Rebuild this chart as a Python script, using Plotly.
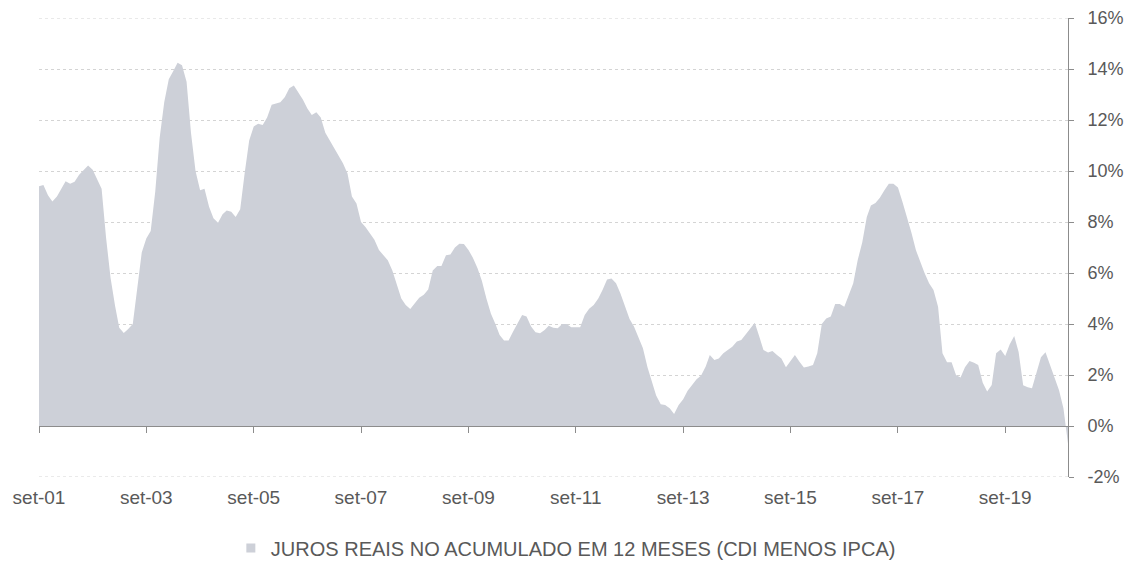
import plotly.graph_objects as go
import pandas as pd

start_month = "2001-09-01"
series_name = "JUROS REAIS NO ACUMULADO EM 12 MESES (CDI MENOS IPCA)"

juros_reais = [
    9.4, 9.45, 9.05, 8.8, 9.0, 9.3, 9.6, 9.5, 9.58, 9.85, 10.05, 10.22,
    10.05, 9.7, 9.3, 7.4, 5.8, 4.7, 3.85, 3.65, 3.8, 4.0, 5.3, 6.8,
    7.35, 7.65, 9.2, 11.3, 12.7, 13.6, 13.9, 14.25, 14.15, 13.5, 11.5, 10.0,
    9.25, 9.3, 8.6, 8.15, 7.97, 8.3, 8.45, 8.4, 8.2, 8.5, 9.9, 11.2,
    11.75, 11.85, 11.8, 12.1, 12.6, 12.65, 12.7, 12.9, 13.25, 13.35, 13.1, 12.8,
    12.45, 12.2, 12.3, 12.1, 11.5, 11.2, 10.9, 10.6, 10.3, 9.9, 9.0, 8.73,
    8.0, 7.8, 7.55, 7.3, 6.9, 6.7, 6.5, 6.1, 5.6, 5.0, 4.75, 4.59,
    4.81, 5.03, 5.15, 5.35, 6.1, 6.27, 6.27, 6.7, 6.73, 7.0, 7.15, 7.14,
    6.9, 6.6, 6.2, 5.7, 5.0, 4.4, 4.03, 3.57, 3.35, 3.35, 3.7, 4.05,
    4.35, 4.29, 3.9, 3.68, 3.64, 3.76, 3.93, 3.85, 3.83, 4.0, 4.0, 3.87,
    3.87, 3.87, 4.35, 4.6, 4.75, 5.0, 5.33, 5.75, 5.78, 5.6, 5.2, 4.7,
    4.2, 3.9, 3.5, 3.05, 2.3, 1.7, 1.2, 0.85, 0.82, 0.7, 0.47, 0.82,
    1.05, 1.38, 1.61, 1.83, 1.98, 2.33, 2.78, 2.59, 2.65, 2.85, 2.98, 3.11,
    3.31, 3.37, 3.6, 3.83, 4.05, 3.5, 2.98, 2.88, 2.94, 2.78, 2.65, 2.3,
    2.55, 2.78, 2.52, 2.29, 2.33, 2.39, 2.85, 4.0, 4.22, 4.29, 4.78, 4.78,
    4.68, 5.14, 5.6, 6.5, 7.2, 8.2, 8.65, 8.75, 8.95, 9.25, 9.5, 9.5,
    9.35, 8.8, 8.2, 7.6, 6.9, 6.4, 6.0, 5.6, 5.33, 4.68, 2.85, 2.5,
    2.5, 2.0, 1.9, 2.3, 2.55, 2.48, 2.39, 1.7, 1.35, 1.61, 2.85, 3.0,
    2.75, 3.2, 3.53, 2.9, 1.6, 1.52, 1.48, 2.1, 2.7, 2.89, 2.4, 1.9,
    1.4, 0.7, -0.7,
]

tick_dates = ["2001-09-01", "2003-09-01", "2005-09-01", "2007-09-01", "2009-09-01",
              "2011-09-01", "2013-09-01", "2015-09-01", "2017-09-01", "2019-09-01"]
tick_labels = ["set-01", "set-03", "set-05", "set-07", "set-09",
               "set-11", "set-13", "set-15", "set-17", "set-19"]
y_ticks = [-2, 0, 2, 4, 6, 8, 10, 12, 14, 16]
y_tick_labels = ["-2%", "0%", "2%", "4%", "6%", "8%", "10%", "12%", "14%", "16%"]

dates = pd.date_range(start_month, periods=len(juros_reais), freq="MS")

fill_color = "#CDD0D8"
text_color = "#595959"
axis_color = "#8C8C8C"
grid_color = "#D4D4D4"
font_family = "Liberation Sans, Arial, sans-serif"

fig = go.Figure()
fig.add_trace(go.Scatter(
    x=dates, y=juros_reais, mode="lines", fill="tozeroy",
    line=dict(width=0, color=fill_color), fillcolor=fill_color,
    showlegend=False, hoverinfo="x+y",
))
fig.add_trace(go.Scatter(
    x=[None], y=[None], mode="markers", name=series_name,
    marker=dict(symbol="square", size=9, color=fill_color),
    showlegend=True,
))

# gridlines at the two range edges (Plotly omits them at the plot border)
for edge in (y_ticks[0], y_ticks[-1]):
    fig.add_shape(type="line", xref="paper", x0=0, x1=1, yref="y", y0=edge, y1=edge,
                  line=dict(color=grid_color, width=1, dash="dot"), layer="below")

fig.update_layout(
    width=1132, height=567,
    margin=dict(l=39, r=64, t=18, b=90, autoexpand=False),
    paper_bgcolor="white", plot_bgcolor="white",
    font=dict(family=font_family, size=18, color=text_color),
    showlegend=True,
    legend=dict(orientation="h", x=0.512, xanchor="center",
                yref="container", y=1 - 548 / 567, yanchor="middle",
                font=dict(family=font_family, size=20, color=text_color),
                itemwidth=30),
    xaxis=dict(
        range=[dates[0], dates[-1]],
        tickvals=tick_dates, ticktext=tick_labels,
        anchor="free", position=2 / 18,
        showline=True, linecolor=axis_color, linewidth=1,
        ticks="outside", ticklen=6, tickcolor=axis_color,
        showgrid=False, zeroline=False, automargin=False,
        ticklabelstandoff=48,
        tickfont=dict(family=font_family, size=19, color=text_color),
    ),
    yaxis=dict(
        range=[y_ticks[0], y_ticks[-1]], side="right",
        tickvals=y_ticks, ticktext=y_tick_labels,
        showline=True, linecolor=axis_color, linewidth=1,
        ticks="outside", ticklen=5, tickcolor=axis_color,
        showgrid=True, gridcolor=grid_color, griddash="dot", gridwidth=1,
        zeroline=False, automargin=False,
        tickfont=dict(family=font_family, size=18, color=text_color),
        ticklabelstandoff=10,
    ),
)

fig.write_html("out.html")
